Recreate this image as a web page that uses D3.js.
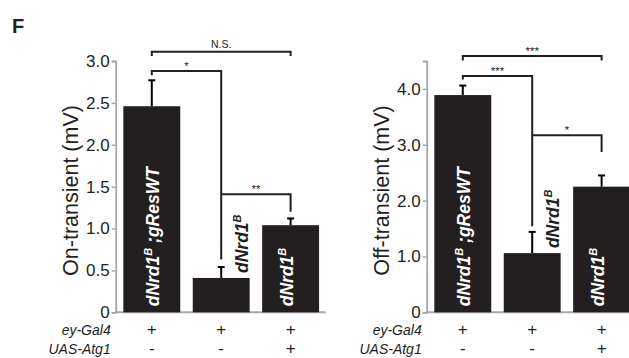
<!DOCTYPE html>
<html lang="en">
<head>
<meta charset="UTF-8">
<title>On/Off transient</title>
<script src="https://cdn.jsdelivr.net/npm/d3@7/dist/d3.min.js"></script>
<style>
    body { margin: 0; background: #fff; }
    svg { display: block; font-family: 'Liberation Sans', Arial, Helvetica, sans-serif; }
</style>
</head>
<body>
<div id="chart"></div>
<script>
// genotypes, left to right
var genotypes = ["rescue", "mutant", "atg1"];
var barLabels = [["dNrd1", "B", " ;gResWT"], ["dNrd1", "B", ""], ["dNrd1", "B", ""]];
var eyGal4 = ["+", "+", "+"];
var uasAtg1 = ["-", "-", "+"];

// On-transient (mV)
var onMean = [2.46, 0.41, 1.04];
var onSem = [0.31, 0.13, 0.08];
var onTicks = [0, 0.5, 1.0, 1.5, 2.0, 2.5, 3.0];
// [from, to, level, left leg end, right leg end, label]
var onSig = [
    [0, 2, 3.11, 3.06, 3.06, "N.S."],
    [0, 1, 2.88, 2.83, 0.63, "*"],
    [1, 2, 1.41, 1.41, 1.20, "**"]
];

// Off-transient (mV)
var offMean = [3.89, 1.06, 2.25];
var offSem = [0.17, 0.38, 0.20];
var offTicks = [0, 1.0, 2.0, 3.0, 4.0];
var offSig = [
    [0, 2, 4.59, 4.51, 4.51, "***"],
    [0, 1, 4.23, 4.17, 1.54, "***"],
    [1, 2, 3.17, 3.17, 2.87, "*"]
];

var W = 629, H = 358;
var ink = "#231f20", axisGrey = "#a7a7a7";

var svg = d3.select("#chart").append("svg")
    .attr("width", W)
    .attr("height", H);

svg.append("text")
    .attr("x", 12).attr("y", 33)
    .style("font-size", "20px").style("font-weight", "bold")
    .attr("fill", ink)
    .text("F");

function panel(o) {
    var y = d3.scaleLinear().domain([0, o.max]).range([312.3, 61]);
    var x = d3.scaleBand().domain(genotypes)
        .range([o.left, o.left + 211])
        .paddingInner(0.18).paddingOuter(0.11);
    var g = svg.append("g");

    // x baseline
    g.append("line")
        .attr("x1", o.left).attr("x2", o.left + 210)
        .attr("y1", y(0)).attr("y2", y(0))
        .attr("stroke", axisGrey).attr("stroke-width", 2);

    var ax = g.append("g")
        .attr("transform", "translate(" + o.left + ",0)")
        .call(d3.axisLeft(y).tickValues(o.ticks).tickSize(4).tickPadding(2)
            .tickFormat(function (d) { return d === 0 ? "0" : d.toFixed(1); }));
    ax.select(".domain").attr("stroke", axisGrey).attr("stroke-width", 1.8);
    ax.selectAll(".tick line").attr("stroke", axisGrey).attr("stroke-width", 1.5);
    ax.selectAll(".tick text").attr("fill", ink)
        .style("font-size", "17px").style("font-family", "inherit");

    // y title
    g.append("text")
        .attr("transform", "translate(" + (o.left - 38) + "," + 190.5 + ") rotate(-90)")
        .attr("text-anchor", "middle")
        .style("font-size", "21.5px")
        .attr("fill", ink)
        .text(o.title);

    // error bars
    o.mean.forEach(function (m, i) {
        var cx = x(genotypes[i]) + x.bandwidth() / 2;
        g.append("line")
            .attr("x1", cx).attr("x2", cx)
            .attr("y1", y(m)).attr("y2", y(m + o.sem[i]))
            .attr("stroke", "#000").attr("stroke-width", 2);
        g.append("line")
            .attr("x1", cx - 3.5).attr("x2", cx + 3.5)
            .attr("y1", y(m + o.sem[i])).attr("y2", y(m + o.sem[i]))
            .attr("stroke", "#000").attr("stroke-width", 2);
    });

    // bars
    g.selectAll("rect.bar").data(o.mean).enter().append("rect")
        .attr("class", "bar")
        .attr("x", function (d, i) { return x(genotypes[i]); })
        .attr("width", x.bandwidth())
        .attr("y", function (d) { return y(d); })
        .attr("height", function (d) { return y(0) - y(d); })
        .attr("fill", ink);

    // significance brackets
    o.sig.forEach(function (s) {
        var x1 = x(genotypes[s[0]]) + x.bandwidth() / 2;
        var x2 = x(genotypes[s[1]]) + x.bandwidth() / 2;
        g.append("path")
            .attr("d", "M" + x1 + "," + y(s[3]) + "V" + y(s[2]) + "H" + x2 + "V" + y(s[4]))
            .attr("fill", "none").attr("stroke", ink).attr("stroke-width", 2);
        g.append("text")
            .attr("x", (x1 + x2) / 2).attr("y", y(s[2]) - (s[5] === "N.S." ? 4 : 1))
            .attr("text-anchor", "middle")
            .style("font-size", s[5] === "N.S." ? "10.5px" : "11.5px")
            .attr("fill", ink)
            .text(s[5]);
    });

    // rotated genotype labels
    barLabels.forEach(function (parts, i) {
        var cx = x(genotypes[i]) + x.bandwidth() / 2;
        var inside = i !== 1;
        var tx = inside ? cx + (parts[2] ? 7 : 2) : cx + 27;
        var ty = inside ? y(0) - 6 : y(o.mean[i]) - 5;
        var t = g.append("text")
            .attr("transform", "translate(" + tx + "," + ty + ") rotate(-90)")
            .attr("fill", inside ? "#fff" : ink)
            .style("font-size", "17.5px")
            .style("font-weight", "bold")
            .style("font-style", "italic");
        t.append("tspan").text(parts[0]);
        t.append("tspan").attr("dy", -7).style("font-size", "11px").text(parts[1]);
        if (parts[2]) t.append("tspan").attr("dy", 7).text(parts[2]);
    });

    // genotype table
    [["ey-Gal4", eyGal4, 335], ["UAS-Atg1", uasAtg1, 354]].forEach(function (row) {
        g.append("text")
            .attr("x", o.left - 5).attr("y", row[2])
            .attr("text-anchor", "end")
            .style("font-size", "14px").style("font-style", "italic")
            .attr("fill", ink)
            .text(row[0]);
        row[1].forEach(function (s, i) {
            g.append("text")
                .attr("x", x(genotypes[i]) + x.bandwidth() / 2).attr("y", row[2])
                .attr("text-anchor", "middle")
                .style("font-size", "17px")
                .attr("fill", ink)
                .text(s);
        });
    });
}

panel({ left: 115.7, max: 3.0, ticks: onTicks, mean: onMean, sem: onSem, sig: onSig, title: "On-transient (mV)" });
panel({ left: 426.7, max: 4.5, ticks: offTicks, mean: offMean, sem: offSem, sig: offSig, title: "Off-transient (mV)" });
</script>
</body>
</html>
